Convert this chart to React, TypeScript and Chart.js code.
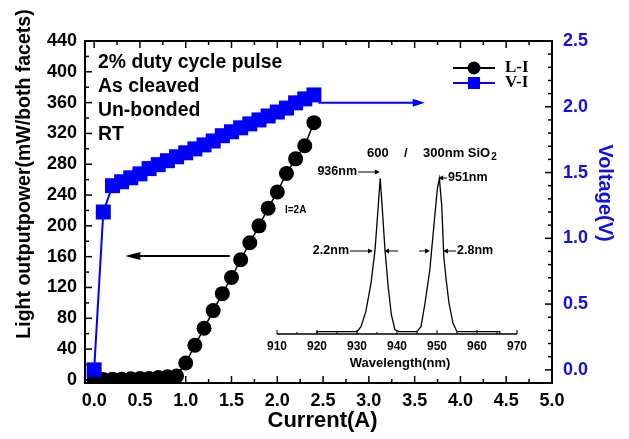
import React, { useEffect, useRef } from 'react';
import { Chart, registerables } from 'chart.js';

Chart.register(...registerables);

// ---------------- Data ----------------
const liCurrent = [0.0, 0.1, 0.2, 0.3, 0.4, 0.5, 0.6, 0.7, 0.8, 0.9, 1.0, 1.1, 1.2, 1.3, 1.4, 1.5, 1.6, 1.7, 1.8, 1.9, 2.0, 2.1, 2.2, 2.3, 2.4];
const liPower = [0, 0.5, 1, 1, 1.5, 2, 2, 3, 4, 5, 22, 45, 67, 90, 112, 133, 156, 178, 200, 223, 244, 268, 287, 304, 334];

const viCurrent = [0.0, 0.1, 0.2, 0.3, 0.4, 0.5, 0.6, 0.7, 0.8, 0.9, 1.0, 1.1, 1.2, 1.3, 1.4, 1.5, 1.6, 1.7, 1.8, 1.9, 2.0, 2.1, 2.2, 2.3, 2.4];
const viVoltage = [0.0, 1.2, 1.40, 1.43, 1.46, 1.49, 1.53, 1.56, 1.59, 1.62, 1.65, 1.68, 1.71, 1.74, 1.78, 1.81, 1.84, 1.87, 1.90, 1.93, 1.96, 1.99, 2.03, 2.06, 2.09];

const currentTicks = [0.0, 0.5, 1.0, 1.5, 2.0, 2.5, 3.0, 3.5, 4.0, 4.5, 5.0];
const powerTicks = [0, 40, 80, 120, 160, 200, 240, 280, 320, 360, 400, 440];
const voltageTicks = [0.0, 0.5, 1.0, 1.5, 2.0, 2.5];

const specWavelength = [920, 920, 930, 931, 932.2, 933.5, 934.5, 935.3, 935.8, 936.4, 937, 937.8, 938.6, 939.5, 940.5, 945, 946, 947, 948.2, 949.2, 950.1, 950.6, 951.2, 951.7, 952.3, 953, 954, 955, 965.7, 965.7];
const specIntensity = [0, 0.015, 0.015, 0.047, 0.143, 0.325, 0.538, 0.816, 0.998, 0.774, 0.538, 0.303, 0.122, 0.026, 0.015, 0.015, 0.047, 0.197, 0.41, 0.688, 0.934, 0.996, 0.816, 0.496, 0.346, 0.197, 0.068, 0.015, 0.015, 0];
const wavelengthTicks = [910, 920, 930, 940, 950, 960, 970];

const W = 629;
const H = 439;
const SANS = "'Liberation Sans', Arial, sans-serif";
const SERIF = "'Liberation Serif', 'Times New Roman', serif";
const BLUE = '#0000ff';
const BLUE_TEXT = '#1010e0';

function drawArrow(ctx: CanvasRenderingContext2D, x1: number, y1: number, x2: number, y2: number, color: string, lw: number, headLen: number, headHalf: number) {
  const ang = Math.atan2(y2 - y1, x2 - x1);
  ctx.save();
  ctx.strokeStyle = color;
  ctx.fillStyle = color;
  ctx.lineWidth = lw;
  ctx.beginPath();
  ctx.moveTo(x1, y1);
  ctx.lineTo(x2 - Math.cos(ang) * headLen * 0.8, y2 - Math.sin(ang) * headLen * 0.8);
  ctx.stroke();
  ctx.beginPath();
  ctx.moveTo(x2, y2);
  ctx.lineTo(x2 - Math.cos(ang) * headLen - Math.sin(ang) * headHalf, y2 - Math.sin(ang) * headLen + Math.cos(ang) * headHalf);
  ctx.lineTo(x2 - Math.cos(ang) * headLen + Math.sin(ang) * headHalf, y2 - Math.sin(ang) * headLen - Math.cos(ang) * headHalf);
  ctx.closePath();
  ctx.fill();
  ctx.restore();
}

const mainPlugin = {
  id: 'mainDecor',
  afterDraw(chart: any) {
    const ctx: CanvasRenderingContext2D = chart.ctx;
    const { left, right, top, bottom } = chart.chartArea;
    const xs = chart.scales.x;
    const yp = chart.scales.y;
    const yv = chart.scales.y1;
    ctx.save();
    const line = (x1: number, y1: number, x2: number, y2: number) => {
      ctx.beginPath();
      ctx.moveTo(x1, y1);
      ctx.lineTo(x2, y2);
      ctx.stroke();
    };
    ctx.strokeStyle = '#000';
    ctx.lineWidth = 1.5;
    // x ticks (bottom and top), inward
    for (let i = 0; i <= 20; i++) {
      const v = i * 0.25;
      const px = xs.getPixelForValue(v);
      const L = i % 2 === 0 ? 7 : 4;
      line(px, bottom, px, bottom - L);
      line(px, top, px, top + L);
    }
    // left ticks
    for (let i = 0; i <= 22; i++) {
      const v = i * 20;
      const py = yp.getPixelForValue(v);
      const L = i % 2 === 0 ? 7 : 4;
      line(left, py, left + L, py);
    }
    // right ticks
    for (let i = 0; i <= 25; i++) {
      const v = i * 0.1;
      const py = yv.getPixelForValue(v);
      const L = i % 5 === 0 ? 7 : 4;
      line(right, py, right - L, py);
    }
    // frame
    ctx.lineWidth = 2;
    ctx.strokeRect(left, top, right - left, bottom - top);

    // axis titles
    ctx.fillStyle = '#000';
    ctx.textAlign = 'center';
    ctx.textBaseline = 'middle';
    ctx.font = `bold 22px ${SANS}`;
    ctx.fillText('Current(A)', (left + right) / 2 + 4, 421);
    ctx.save();
    ctx.translate(25, 174);
    ctx.rotate(-Math.PI / 2);
    ctx.font = `bold 19.5px ${SANS}`;
    ctx.fillText('Light outputpower(mW/both facets)', 0, 0);
    ctx.restore();
    ctx.save();
    ctx.translate(605, 193);
    ctx.rotate(Math.PI / 2);
    ctx.fillStyle = BLUE_TEXT;
    ctx.font = `bold 20px ${SANS}`;
    ctx.fillText('Voltage(V)', 0, 0);
    ctx.restore();

    // text block
    ctx.textAlign = 'left';
    ctx.fillStyle = '#000';
    ctx.font = `bold 19.4px ${SANS}`;
    const tl = left + 13;
    ctx.fillText('2% duty cycle pulse', tl, 63);
    ctx.fillText('As cleaved', tl, 87);
    ctx.fillText('Un-bonded', tl, 111);
    ctx.fillText('RT', tl, 135);

    // I=2A
    ctx.font = `bold 10px ${SANS}`;
    ctx.fillText('I=2A', 285, 210);

    // arrows
    drawArrow(ctx, xs.getPixelForValue(2.45), yv.getPixelForValue(2.03), xs.getPixelForValue(3.61), yv.getPixelForValue(2.03), BLUE, 2, 12, 4);
    drawArrow(ctx, xs.getPixelForValue(1.48), yp.getPixelForValue(161), xs.getPixelForValue(0.34), yp.getPixelForValue(161), '#000', 2, 15, 4);

    // legend
    const lx1 = 453, lx2 = 495, lm = 474;
    const r1 = 68, r2 = 83;
    ctx.lineWidth = 2;
    ctx.strokeStyle = '#000';
    line(lx1, r1, lx2, r1);
    ctx.fillStyle = '#000';
    ctx.beginPath();
    ctx.arc(lm, r1, 6.5, 0, Math.PI * 2);
    ctx.fill();
    ctx.strokeStyle = BLUE;
    line(lx1, r2, lx2, r2);
    ctx.fillStyle = BLUE;
    ctx.fillRect(lm - 6, r2 - 6, 12, 12);
    ctx.fillStyle = '#000';
    ctx.font = `bold 17px ${SERIF}`;
    ctx.textAlign = 'left';
    ctx.fillText('L-I', 505, r1);
    ctx.fillText('V-I', 505, r2);
    ctx.restore();
  },
};

const insetPlugin = {
  id: 'insetDecor',
  afterDraw(chart: any) {
    const ctx: CanvasRenderingContext2D = chart.ctx;
    const xs = chart.scales.x;
    const ys = chart.scales.y;
    const px = (v: number) => xs.getPixelForValue(v);
    const py = (v: number) => ys.getPixelForValue(v);
    const base = py(0);
    ctx.save();
    ctx.strokeStyle = '#000';
    ctx.lineWidth = 1.3;
    ctx.beginPath();
    ctx.moveTo(px(910), base);
    ctx.lineTo(px(970), base);
    ctx.stroke();
    ctx.lineWidth = 1;
    for (let i = 0; i <= 12; i++) {
      const v = 910 + i * 5;
      const L = i % 2 === 0 ? 4 : 2;
      ctx.beginPath();
      ctx.moveTo(px(v), base);
      ctx.lineTo(px(v), base - L);
      ctx.stroke();
    }
    ctx.fillStyle = '#000';
    ctx.textAlign = 'center';
    ctx.textBaseline = 'middle';
    ctx.font = `bold 12px ${SANS}`;
    wavelengthTicks.forEach((t) => ctx.fillText(String(t), px(t), base + 13));
    ctx.font = `bold 13px ${SANS}`;
    ctx.fillText('Wavelength(nm)', (px(910) + px(970)) / 2 + 3, base + 29);

    // header text
    ctx.textAlign = 'left';
    ctx.font = `bold 13px ${SANS}`;
    ctx.fillText('600', 367, 153);
    ctx.fillText('/', 404, 153);
    ctx.fillText('300nm SiO', 423, 153);
    const w = ctx.measureText('300nm SiO').width;
    ctx.font = `bold 10px ${SANS}`;
    ctx.fillText('2', 423 + w + 1, 157);

    // peak labels
    ctx.font = `bold 12.5px ${SANS}`;
    ctx.textAlign = 'right';
    ctx.fillText('936nm', 357, 172);
    drawArrow(ctx, 358, 172, px(935.7), 172, '#000', 1, 5, 2.5);
    ctx.textAlign = 'left';
    ctx.fillText('951nm', 448, 178);
    drawArrow(ctx, 447, 178, px(950.3), 178, '#000', 1, 5, 2.5);

    // FWHM marks
    const fy = 251;
    ctx.textAlign = 'right';
    ctx.fillText('2.2nm', 349, fy);
    drawArrow(ctx, 350, fy, px(934), fy, '#000', 1, 5, 2.5);
    drawArrow(ctx, 398, fy, px(936.75), fy, '#000', 1, 5, 2.5);
    drawArrow(ctx, 419, fy, px(948.25), fy, '#000', 1, 5, 2.5);
    drawArrow(ctx, 456, fy, px(951.5), fy, '#000', 1, 5, 2.5);
    ctx.textAlign = 'left';
    ctx.fillText('2.8nm', 457, fy);
    ctx.restore();
  },
};

export default function App() {
  const mainRef = useRef<HTMLCanvasElement>(null);
  const insetRef = useRef<HTMLCanvasElement>(null);

  useEffect(() => {
    if (!mainRef.current || !insetRef.current) return;
    const tickFont = { family: SANS, size: 18, weight: 'bold' as const };
    const main = new Chart(mainRef.current, {
      type: 'line',
      data: {
        datasets: [
          {
            label: 'V-I',
            data: viCurrent.map((x, i) => ({ x, y: viVoltage[i] })),
            yAxisID: 'y1',
            borderColor: BLUE,
            backgroundColor: BLUE,
            borderWidth: 2,
            pointStyle: 'rect',
            pointRadius: 10.6,
            pointBorderWidth: 0,
            order: 0,
            clip: false as any,
          },
          {
            label: 'L-I',
            data: liCurrent.map((x, i) => ({ x, y: liPower[i] })),
            yAxisID: 'y',
            borderColor: '#000',
            backgroundColor: '#000',
            borderWidth: 1.5,
            pointStyle: 'circle',
            pointRadius: 7.5,
            pointBorderWidth: 0,
            order: 1,
          },
        ],
      },
      options: {
        animation: false,
        responsive: false,
        layout: { padding: { top: 41, left: 0, right: 0, bottom: 0 } },
        plugins: { legend: { display: false }, tooltip: { enabled: false } },
        scales: {
          x: {
            type: 'linear',
            position: 'bottom',
            min: -0.1,
            max: 5.0,
            afterBuildTicks: (s: any) => { s.ticks = currentTicks.map((v) => ({ value: v })); },
            afterFit: (s: any) => { s.height = 56; },
            grid: { display: false, drawTicks: false },
            border: { display: false },
            ticks: { autoSkip: false, maxRotation: 0, padding: 7, color: '#000', font: tickFont, callback: (v: any) => Number(v).toFixed(1) },
          },
          y: {
            type: 'linear',
            position: 'left',
            min: -4,
            max: 440,
            afterBuildTicks: (s: any) => { s.ticks = powerTicks.map((v) => ({ value: v })); },
            afterFit: (s: any) => { s.width = 85; },
            grid: { display: false, drawTicks: false },
            border: { display: false },
            ticks: { autoSkip: false, padding: 8, color: '#000', font: tickFont, callback: (v: any) => String(v) },
          },
          y1: {
            type: 'linear',
            position: 'right',
            min: -0.1,
            max: 2.5,
            afterBuildTicks: (s: any) => { s.ticks = voltageTicks.map((v) => ({ value: v })); },
            afterFit: (s: any) => { s.width = 77; },
            grid: { display: false, drawTicks: false },
            border: { display: false },
            ticks: { autoSkip: false, padding: 11, color: BLUE_TEXT, font: tickFont, callback: (v: any) => Number(v).toFixed(1) },
          },
        },
      } as any,
      plugins: [mainPlugin],
    });

    const inset = new Chart(insetRef.current, {
      type: 'line',
      data: {
        datasets: [
          {
            data: specWavelength.map((x, i) => ({ x, y: specIntensity[i] })),
            borderColor: '#000',
            borderWidth: 1.3,
            pointRadius: 0,
            tension: 0,
            fill: false,
            clip: false as any,
          },
        ],
      },
      options: {
        animation: false,
        responsive: false,
        layout: { padding: { left: 277, right: W - 517, top: 178, bottom: H - 334 } },
        plugins: { legend: { display: false }, tooltip: { enabled: false } },
        scales: {
          x: { type: 'linear', min: 910, max: 970, display: false },
          y: { type: 'linear', min: 0, max: 1, display: false },
        },
      } as any,
      plugins: [insetPlugin],
    });

    return () => {
      main.destroy();
      inset.destroy();
    };
  }, []);

  return (
    <div style={{ position: 'fixed', left: 0, top: 0, width: W, height: H, background: '#fff' }}>
      <canvas ref={mainRef} width={W} height={H} style={{ position: 'absolute', left: 0, top: 0 }} />
      <canvas ref={insetRef} width={W} height={H} style={{ position: 'absolute', left: 0, top: 0, pointerEvents: 'none' }} />
    </div>
  );
}
